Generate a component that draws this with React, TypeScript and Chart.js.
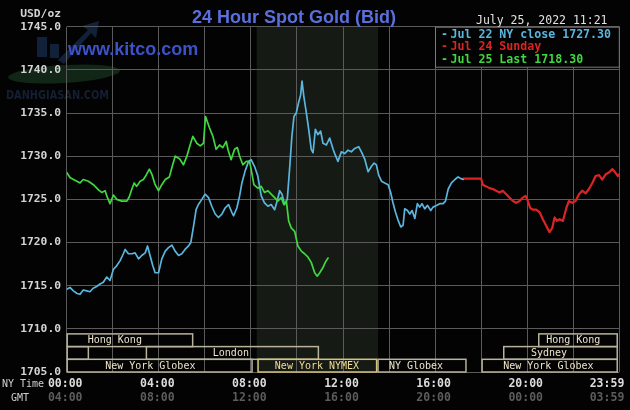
import React, { useEffect, useRef } from "react";
import { Chart, registerables } from "chart.js";

Chart.register(...registerables);

const TITLE = "24 Hour Spot Gold (Bid)";
const SITE = "www.kitco.com";
const STAMP = "July 25, 2022 11:21";
const UNIT = "USD/oz";
const WATERMARK = "DANHGIASAN.COM";
const Y_MIN = 1705;
const Y_MAX = 1745;
const Y_STEP = 5;
const X_MIN = 0;
const X_MAX = 24;
const X_STEP = 2;

const NY_TICK_HOURS = [0, 4, 8, 12, 16, 20, 24];
const NY_TICK_LABELS = ["00:00", "04:00", "08:00", "12:00", "16:00", "20:00", "23:59"];
const GMT_TICK_LABELS = ["04:00", "08:00", "12:00", "16:00", "20:00", "00:00", "03:59"];

const SERIES_NAMES = ["Jul 22 NY close 1727.30", "Jul 24 Sunday", "Jul 25 Last 1718.30"];
const SERIES_COLORS = ["#5ab6de", "#dc2424", "#3fd83f"];

const NYMEX_SHADE = [8.25, 13.52];

// Jul 22 (blue)
const blueHours = [
  0.0, 0.14, 0.29, 0.45, 0.58, 0.72, 0.87, 1.01, 1.15, 1.3, 1.45, 1.59, 1.74, 1.88, 2.03, 2.17, 2.32, 2.46, 2.54, 2.68,
  2.83, 2.97, 3.12, 3.26, 3.41, 3.51, 3.62, 3.74, 3.84, 3.99, 4.13, 4.28, 4.42, 4.57, 4.71, 4.86, 5.0, 5.14, 5.29, 5.39,
  5.51, 5.62, 5.72, 5.87, 6.01, 6.16, 6.3, 6.45, 6.59, 6.74, 6.88, 7.03, 7.17, 7.25, 7.39, 7.51, 7.61, 7.75, 7.9, 8.01,
  8.16, 8.3, 8.45, 8.59, 8.74, 8.88, 9.03, 9.14, 9.25, 9.35, 9.46, 9.58, 9.68, 9.78, 9.87, 9.97, 10.07, 10.16, 10.22, 10.3,
  10.41, 10.51, 10.62, 10.7, 10.8, 10.91, 11.03, 11.13, 11.28, 11.42, 11.57, 11.64, 11.78, 11.93, 12.07, 12.22, 12.36, 12.51, 12.68, 12.8,
  12.94, 13.09, 13.23, 13.35, 13.45, 13.55, 13.67, 13.81, 13.96, 14.07, 14.17, 14.28, 14.39, 14.51, 14.61, 14.68, 14.8, 14.9, 15.0, 15.12,
  15.23, 15.33, 15.43, 15.55, 15.67, 15.81, 15.91, 16.06, 16.2, 16.35, 16.45, 16.57, 16.71, 16.86, 17.0, 17.12, 17.22,
];
const blueValues = [
  1714.6, 1714.8, 1714.4, 1714.1, 1714.0, 1714.5, 1714.4, 1714.3, 1714.7, 1714.9, 1715.2, 1715.4, 1716.0, 1715.6, 1716.9, 1717.3, 1717.9, 1718.7, 1719.2, 1718.7,
  1718.7, 1718.8, 1718.1, 1718.5, 1718.8, 1719.6, 1718.5, 1717.3, 1716.5, 1716.5, 1718.1, 1719.0, 1719.4, 1719.7, 1719.0, 1718.5, 1718.7, 1719.2, 1719.6, 1720.0,
  1721.9, 1723.8, 1724.4, 1725.0, 1725.6, 1725.2, 1724.2, 1723.3, 1722.9, 1723.3, 1724.0, 1724.4, 1723.5, 1723.1, 1724.0, 1725.4, 1726.9, 1728.3, 1729.4, 1729.6,
  1728.8, 1727.7, 1725.4, 1724.6, 1724.2, 1724.4, 1723.8, 1724.8, 1726.0, 1725.6, 1724.4, 1725.0, 1728.5, 1732.3, 1734.6, 1735.0, 1736.2, 1737.1, 1738.7, 1736.9,
  1735.0, 1733.1, 1730.8, 1730.4, 1733.1, 1732.5, 1732.9, 1731.5, 1731.3, 1732.1, 1730.8, 1730.3, 1729.4, 1730.5, 1730.3, 1730.7, 1730.5, 1730.9, 1731.1, 1730.5,
  1729.7, 1728.2, 1728.8, 1729.2, 1729.0, 1727.8, 1727.1, 1726.9, 1726.7, 1725.8, 1724.6, 1723.5, 1722.6, 1721.8, 1722.0, 1723.9, 1723.7, 1723.3, 1723.7, 1722.8,
  1724.5, 1724.1, 1724.5, 1723.9, 1724.3, 1723.7, 1724.1, 1724.3, 1724.5, 1724.5, 1724.8, 1726.2, 1726.9, 1727.3, 1727.6, 1727.4, 1727.3,
];

// Jul 24 Sunday (red)
const redHours = [
  17.22, 18.0, 18.07, 18.22, 18.36, 18.51, 18.65, 18.8, 18.94, 19.09, 19.23, 19.38, 19.52, 19.67, 19.81, 19.93, 20.03, 20.13, 20.25, 20.39,
  20.54, 20.68, 20.83, 20.97, 21.09, 21.19, 21.29, 21.41, 21.55, 21.7, 21.81, 21.96, 22.1, 22.25, 22.39, 22.54, 22.68, 22.83, 22.97, 23.12,
  23.26, 23.41, 23.55, 23.7, 23.8, 23.94, 23.99,
];
const redValues = [
  1727.4, 1727.4, 1726.7, 1726.5, 1726.3, 1726.2, 1726.0, 1725.8, 1726.0, 1725.6, 1725.2, 1724.8, 1724.6, 1724.8, 1725.2, 1725.4, 1724.8, 1724.0, 1723.8, 1723.8,
  1723.5, 1722.7, 1721.9, 1721.2, 1721.7, 1722.9, 1722.5, 1722.7, 1722.5, 1724.0, 1724.8, 1724.6, 1724.8, 1725.6, 1726.0, 1725.7, 1726.2, 1726.9, 1727.7, 1727.8,
  1727.3, 1727.9, 1728.1, 1728.5, 1728.2, 1727.7, 1727.9,
];

// Jul 25 (green)
const greenHours = [
  0.0, 0.15, 0.36, 0.58, 0.72, 0.94, 1.16, 1.38, 1.52, 1.67, 1.74, 1.88, 2.03, 2.17, 2.39, 2.61, 2.72, 2.83, 2.93, 3.04,
  3.19, 3.33, 3.45, 3.59, 3.7, 3.84, 3.99, 4.13, 4.28, 4.46, 4.57, 4.71, 4.9, 5.07, 5.22, 5.36, 5.48, 5.65, 5.8, 5.94,
  6.03, 6.2, 6.35, 6.49, 6.64, 6.78, 6.93, 7.0, 7.14, 7.29, 7.41, 7.51, 7.65, 7.8, 7.94, 8.01, 8.13, 8.3, 8.45, 8.59,
  8.74, 8.88, 9.03, 9.17, 9.32, 9.43, 9.54, 9.64, 9.75, 9.9, 10.04, 10.19, 10.33, 10.48, 10.62, 10.77, 10.88, 10.99, 11.13, 11.23,
  11.35,
];
const greenValues = [
  1728.1, 1727.5, 1727.2, 1726.9, 1727.3, 1727.1, 1726.7, 1726.1, 1725.8, 1726.0, 1725.4, 1724.5, 1725.5, 1725.0, 1724.8, 1724.8, 1725.3, 1726.2, 1726.9, 1726.5,
  1727.1, 1727.3, 1727.8, 1728.5, 1727.9, 1726.7, 1726.0, 1726.7, 1727.3, 1727.6, 1728.7, 1730.0, 1729.7, 1729.0, 1730.0, 1731.3, 1732.3, 1731.5, 1731.2, 1731.5,
  1734.6, 1733.3, 1732.3, 1730.8, 1731.3, 1731.0, 1731.7, 1730.8, 1729.6, 1730.8, 1731.0, 1730.0, 1729.0, 1729.4, 1729.4, 1728.5, 1726.7, 1726.3, 1726.5, 1725.8,
  1726.0, 1725.6, 1725.2, 1724.8, 1725.2, 1724.4, 1724.8, 1722.5, 1721.7, 1721.3, 1719.6, 1719.0, 1718.7, 1718.3, 1717.7, 1716.5, 1716.1, 1716.5, 1717.1, 1717.7,
  1718.2,
];

// Trading sessions (rows from top, start/end hours NY time, label centre hour)
const sessionNames = ["Hong Kong", "Hong Kong", "", "London", "Sydney", "New York Globex", "New York NYMEX", "NY Globex", "New York Globex"];
const sessionRows = [0, 0, 1, 1, 1, 2, 2, 2, 2];
const sessionStarts = [0, 20.48, 0, 3.44, 18.96, 0, 8.29, 13.5, 18.02];
const sessionEnds = [5.47, 23.91, 0.94, 10.93, 23.91, 8.05, 13.46, 17.34, 23.91];
const sessionLabelAt = [2.09, 22.0, 0.47, 7.13, 20.95, 3.63, 10.87, 15.17, 20.92];
const sessionIsNymex = [false, false, false, false, false, false, true, false, false];

const MONO = "'DejaVu Sans Mono', 'Liberation Mono', monospace";
const SANS = "'Liberation Sans', Arial, sans-serif";

const toPoints = (hs: number[], vs: number[]) => hs.map((h, i) => ({ x: h, y: vs[i] }));

export default function App() {
  const ref = useRef<HTMLCanvasElement>(null);

  useEffect(() => {
    const canvas = ref.current!;

    const overlay = {
      id: "kitcoOverlay",
      beforeDraw(chart: any) {
        const ctx = chart.ctx as CanvasRenderingContext2D;
        const { chartArea } = chart;
        const xs = chart.scales.x;
        ctx.save();
        ctx.fillStyle = "#030303";
        ctx.fillRect(0, 0, chart.width, chart.height);
        // NYMEX shaded hours
        const s1 = xs.getPixelForValue(NYMEX_SHADE[0]);
        const s2 = xs.getPixelForValue(NYMEX_SHADE[1]);
        ctx.fillStyle = "#161a14";
        ctx.fillRect(s1, chartArea.top, s2 - s1, chartArea.bottom - chartArea.top);

        // faint watermark logo
        ctx.fillStyle = "#112616";
        ctx.beginPath();
        ctx.ellipse(64, 74, 56, 9, -0.06, 0, Math.PI * 2);
        ctx.fill();
        ctx.fillStyle = "#12213a";
        ctx.fillRect(37, 37, 10, 20);
        ctx.fillRect(50, 44, 9, 14);
        ctx.beginPath();
        ctx.moveTo(58, 60);
        ctx.lineTo(88, 30);
        ctx.lineTo(82, 26);
        ctx.lineTo(99, 21);
        ctx.lineTo(96, 38);
        ctx.lineTo(91, 33);
        ctx.lineTo(64, 64);
        ctx.closePath();
        ctx.fill();
        ctx.fillStyle = "#161f32";
        ctx.font = `bold 12px 'DejaVu Sans Condensed', ${SANS}`;
        ctx.textAlign = "left";
        ctx.textBaseline = "alphabetic";
        ctx.fillText(WATERMARK, 6, 99, 103);
        ctx.restore();
      },
      afterDraw(chart: any) {
        const ctx = chart.ctx as CanvasRenderingContext2D;
        const { chartArea } = chart;
        const xs = chart.scales.x;
        ctx.save();

        // Title & site
        ctx.textBaseline = "alphabetic";
        ctx.textAlign = "center";
        ctx.font = `bold 18px ${SANS}`;
        ctx.fillStyle = "#5a6fdc";
        ctx.fillText(TITLE, 294, 22.5);
        ctx.textAlign = "left";
        ctx.fillStyle = "#3d52c8";
        ctx.fillText(SITE, 68, 55);

        // Time stamp
        ctx.font = `11.5px ${MONO}`;
        ctx.fillStyle = "#e2e2e2";
        ctx.fillText(STAMP, 476, 24);

        // Unit
        ctx.textAlign = "right";
        ctx.font = `bold 11.3px ${MONO}`;
        ctx.fillStyle = "#d4d4d4";
        ctx.fillText(UNIT, 61, 17);

        // Legend box
        const lx = 435.5;
        const ly = chartArea.top + 0.5;
        const lw = chartArea.right - lx;
        const lh = 40;
        ctx.fillStyle = "#030303";
        ctx.fillRect(lx, ly, lw, lh);
        ctx.strokeStyle = "#7a7a7a";
        ctx.lineWidth = 1;
        ctx.strokeRect(lx, ly, lw, lh);
        ctx.textAlign = "left";
        ctx.font = `bold 11.6px ${MONO}`;
        SERIES_NAMES.forEach((name, i) => {
          ctx.fillStyle = SERIES_COLORS[i];
          const by = 37.7 + i * 12.5;
          ctx.fillText("-", 441, by);
          ctx.fillText(name, 450.5, by);
        });

        // Session bars
        const rowH = 12.7;
        const baseTop = chartArea.bottom - rowH * 3;
        ctx.font = `10px ${MONO}`;
        ctx.textAlign = "center";
        ctx.textBaseline = "middle";
        sessionNames.forEach((name, i) => {
          const x1 = Math.max(xs.getPixelForValue(sessionStarts[i]), chartArea.left) + 0.5;
          const x2 = xs.getPixelForValue(sessionEnds[i]);
          const y1 = baseTop + sessionRows[i] * rowH;
          ctx.lineWidth = 1.5;
          ctx.strokeStyle = sessionIsNymex[i] ? "#d6c47e" : "#b9b29c";
          ctx.strokeRect(x1, y1, x2 - x1, rowH);
          if (name) {
            ctx.fillStyle = sessionIsNymex[i] ? "#efdc98" : "#ece4cc";
            ctx.fillText(name, xs.getPixelForValue(sessionLabelAt[i]), y1 + rowH / 2 + 0.5);
          }
        });

        // X axis labels (NY time and GMT)
        ctx.textBaseline = "alphabetic";
        ctx.font = `10px ${MONO}`;
        ctx.fillStyle = "#d0d0d0";
        ctx.textAlign = "left";
        ctx.fillText("NY Time", 2, 386.5);
        ctx.fillText("GMT", 11, 400.5);
        ctx.font = `bold 11.5px ${MONO}`;
        NY_TICK_HOURS.forEach((h, i) => {
          const px = xs.getPixelForValue(h);
          const last = i === NY_TICK_HOURS.length - 1;
          ctx.textAlign = last ? "right" : "center";
          const tx = last ? px + 5 : px - 1.5;
          ctx.fillStyle = "#dcdcdc";
          ctx.fillText(NY_TICK_LABELS[i], tx, 386.7);
          ctx.fillStyle = "#5c5c5c";
          ctx.fillText(GMT_TICK_LABELS[i], tx, 401);
        });

        ctx.restore();
      },
    };

    const chart = new Chart(canvas, {
      type: "line",
      data: {
        datasets: [
          {
            label: SERIES_NAMES[2],
            data: toPoints(greenHours, greenValues),
            borderColor: SERIES_COLORS[2],
            borderWidth: 1.7,
          },
          {
            label: SERIES_NAMES[0],
            data: toPoints(blueHours, blueValues),
            borderColor: SERIES_COLORS[0],
            borderWidth: 1.7,
          },
          {
            label: SERIES_NAMES[1],
            data: toPoints(redHours, redValues),
            borderColor: SERIES_COLORS[1],
            borderWidth: 2.2,
          },
        ],
      },
      options: {
        responsive: false,
        animation: false,
        devicePixelRatio: 1,
        parsing: true,
        elements: {
          point: { radius: 0, hoverRadius: 0 },
          line: { tension: 0, borderJoinStyle: "round", borderCapStyle: "round", fill: false },
        },
        layout: { padding: { top: 26.7, right: 10.7, bottom: 38, left: 0 } },
        plugins: { legend: { display: false }, tooltip: { enabled: false }, title: { display: false } },
        scales: {
          x: {
            type: "linear",
            min: X_MIN,
            max: X_MAX,
            ticks: { display: false, stepSize: X_STEP },
            grid: { color: "#5a5a5a", lineWidth: 1, drawTicks: false, tickLength: 0 },
            border: { display: false },
            afterFit: (s: any) => {
              s.height = 0;
            },
          },
          y: {
            type: "linear",
            min: Y_MIN,
            max: Y_MAX,
            ticks: {
              stepSize: Y_STEP,
              padding: 5.7,
              color: "#d4d4d4",
              font: { family: MONO, size: 11.3, weight: "bold" },
              callback: (v: any) => Number(v).toFixed(1),
            },
            grid: { color: "#5a5a5a", lineWidth: 1, drawTicks: false, tickLength: 0 },
            border: { display: false },
            afterFit: (s: any) => {
              s.width = 66.7;
            },
          },
        },
      },
      plugins: [overlay],
    } as any);

    return () => chart.destroy();
  }, []);

  return (
    <div style={{ position: "fixed", left: 0, top: 0, width: 630, height: 410, background: "#030303" }}>
      <canvas ref={ref} width={630} height={410} style={{ display: "block", width: 630, height: 410 }} />
    </div>
  );
}
